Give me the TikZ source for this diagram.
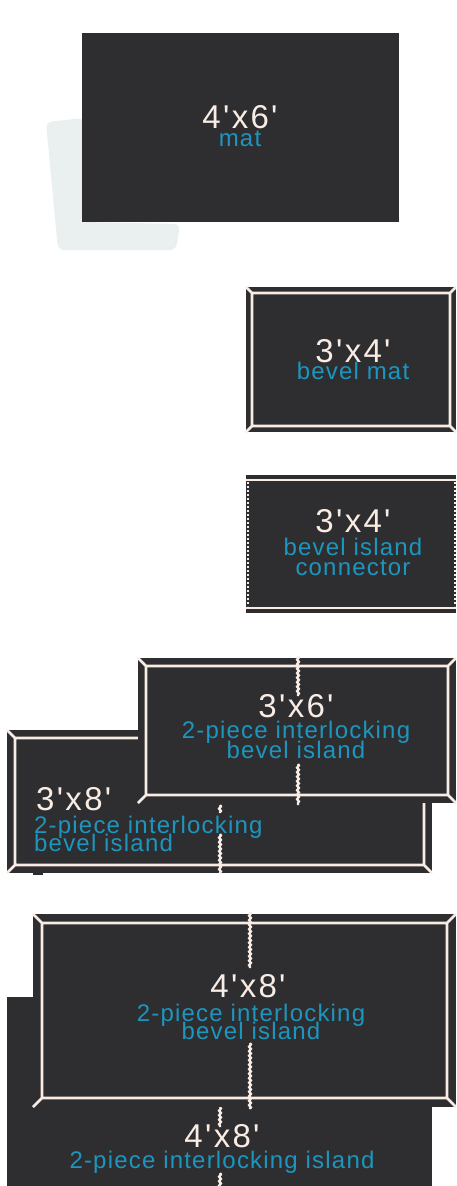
\documentclass[tikz,border=0pt]{standalone}
\usepackage{fontspec}
\setmainfont{Liberation Sans}
\newfontfamily\dimfont[LetterSpace=7]{Liberation Sans}
\newfontfamily\kindfont[LetterSpace=5]{Liberation Sans}
\usetikzlibrary{decorations.pathmorphing}

\definecolor{matdark}{RGB}{46,46,48}
\definecolor{edgewhite}{RGB}{248,236,228}
\definecolor{kindblue}{RGB}{28,150,190}
\definecolor{smudge}{RGB}{234,240,239}

\tikzset{
  matfill/.style={fill=matdark},
  bevelline/.style={draw=edgewhite,line width=2.6pt,line join=miter},
  seam/.style={draw=edgewhite,line width=2.4pt,
    decorate,decoration={snake,amplitude=0.9pt,segment length=4.5pt}},
  dimtext/.style={text=edgewhite,font=\dimfont\fontsize{33}{33}\selectfont,
    anchor=base,inner sep=0pt,text depth=0pt},
  kindtext/.style={text=kindblue,font=\kindfont\fontsize{24}{24}\selectfont,
    anchor=base,inner sep=0pt,text height=0.72em,text depth=0.1em}
}

% outer corner (#1,#2), opposite corner (#3,#4), bevel width #5
\newcommand{\bevelbox}[5]{%
  \fill[matfill] (#1,#2) rectangle (#3,#4);
  \draw[bevelline] (#1+#5,#2+#5) rectangle (#3-#5,#4-#5)
    (#1,#2) -- (#1+#5,#2+#5)
    (#3,#2) -- (#3-#5,#2+#5)
    (#1,#4) -- (#1+#5,#4-#5)
    (#3,#4) -- (#3-#5,#4-#5);
}

\begin{document}
\begin{tikzpicture}[x=1pt,y=-1pt]
\useasboundingbox[fill=white] (0,0) rectangle (456,1186);

% 4'x6' mat
\fill[smudge,rounded corners=6pt] (46,122) -- (84,118) -- (84,222) -- (180,224)
  -- (176,250) -- (58,250) -- cycle;
\fill[matfill] (82,33) rectangle (399,222);
\node[dimtext] (matdim) at (240,128) {4'x6'};
\node[kindtext] (matkind) at (240,146) {mat};

% 3'x4' bevel mat
\bevelbox{246}{287}{456}{432}{6}
\node[dimtext] (beveldim) at (353,362) {3'x4'};
\node[kindtext] (bevelkind) at (353,379) {bevel mat};

% 3'x4' connector
\fill[matfill] (246,475) rectangle (456,613);
\draw[edgewhite,line width=2.4pt] (246,480) -- (456,480) (246,608) -- (456,608);
\draw[edgewhite,line width=2pt,dash pattern=on 2pt off 2pt]
  (247.5,482) -- (247.5,606) (454.5,482) -- (454.5,606);
\node[dimtext] (condim) at (353,532) {3'x4'};
\node[kindtext] (conkind) at (353,555) {bevel island};
\node[kindtext] (conkindb) at (353,575) {connector};

% 3'x8' 2-piece bevel island
\bevelbox{7}{730}{432}{873}{8}
\draw[seam] (220,805) -- (220,813);
\draw[seam] (220,834) -- (220,873);
\fill[matfill] (33,867) rectangle (43,875);
\node[dimtext,anchor=base west] (eightdim) at (36,810) {3'x8'};
\node[kindtext,anchor=base west] (eightkind) at (34,833) {2-piece interlocking};
\node[kindtext,anchor=base west] (eightkindb) at (34,851) {bevel island};

% 3'x6' 2-piece bevel island
\bevelbox{138}{658}{456}{803}{8}
\draw[seam] (298,656) -- (298,696);
\draw[seam] (298,764) -- (298,805);
\node[dimtext] (sixdim) at (296,717) {3'x6'};
\node[kindtext] (sixkind) at (296,738) {2-piece interlocking};
\node[kindtext] (sixkindb) at (296,758) {bevel island};

% 4'x8' 2-piece island
\fill[matfill] (7,997) rectangle (432,1190);
\draw[seam] (220,1107) -- (220,1127);
\draw[seam] (220,1173) -- (220,1188);
\node[dimtext] (islanddim) at (222,1147) {4'x8'};
\node[kindtext] (islandkind) at (222,1168) {2-piece interlocking island};

% 4'x8' 2-piece bevel island
\bevelbox{33}{914}{456}{1107}{9}
\draw[seam] (250,912) -- (250,968);
\draw[seam] (250,1043) -- (250,1109);
\node[dimtext] (bigdim) at (248,997) {4'x8'};
\node[kindtext] (bigkind) at (251,1021) {2-piece interlocking};
\node[kindtext] (bigkindb) at (251,1039) {bevel island};
\end{tikzpicture}
\end{document}
